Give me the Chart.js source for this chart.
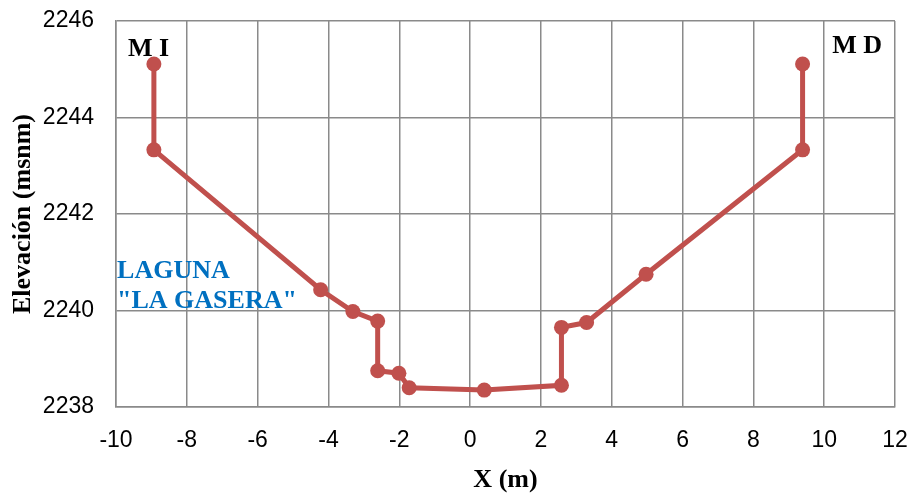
<!DOCTYPE html>
<html>
<head>
<meta charset="utf-8">
<script src="https://cdn.jsdelivr.net/npm/chart.js@4.4.1/dist/chart.umd.min.js"></script>
<style>
  html, body { margin: 0; padding: 0; background: #fff; }
  #wrap { width: 914px; height: 493px; }
</style>
</head>
<body>
<div id="wrap"><canvas id="perfil" width="914" height="493"></canvas></div>
<script>
// Perfil transversal - distancias (m) y elevaciones (msnm)
const distX = [-8.93, -8.93, -4.22, -3.31, -2.61, -2.61, -2.01, -1.72, 0.40, 2.58, 2.58, 3.29, 4.97, 9.39, 9.39];
const elev = [2245.11, 2243.33, 2240.43, 2239.98, 2239.78, 2238.75, 2238.70, 2238.40, 2238.35, 2238.45, 2239.65, 2239.75, 2240.75, 2243.33, 2245.11];

const xMin = -10, xMax = 12, xStep = 2;
const yMin = 2238, yMax = 2246, yStep = 2;

const xTitle = 'X (m)';
const yTitle = 'Elevación (msnm)';

// etiquetas dentro del gráfico (posición en unidades de los ejes)
const notes = [
  { text: 'M I', x: -9.66, y: 2245.27, color: '#000000' },
  { text: 'M D', x: 10.23, y: 2245.34, color: '#000000' },
  { text: 'LAGUNA', x: -9.97, y: 2240.67, color: '#0070C0' },
  { text: '"LA GASERA"', x: -9.97, y: 2240.05, color: '#0070C0' }
];

const tickFont = { family: '"Liberation Sans", Arial, sans-serif', size: 23 };
const serifBold = 'bold 26px "Liberation Serif", "Times New Roman", serif';
const gridColor = '#8a8a8a';

const textPlugin = {
  id: 'textPlugin',
  afterDraw(chart) {
    const ctx = chart.ctx;
    const xs = chart.scales.x, ys = chart.scales.y;
    const area = chart.chartArea;
    ctx.save();
    ctx.font = serifBold;
    ctx.textBaseline = 'alphabetic';
    ctx.textAlign = 'left';
    notes.forEach(n => {
      ctx.fillStyle = n.color;
      ctx.fillText(n.text, xs.getPixelForValue(n.x), ys.getPixelForValue(n.y));
    });

    ctx.fillStyle = '#000';
    ctx.textAlign = 'center';
    ctx.fillText(xTitle, (area.left + area.right) / 2, 487);

    ctx.translate(30, (area.top + area.bottom) / 2);
    ctx.rotate(-Math.PI / 2);
    ctx.fillText(yTitle, 0, 0);
    ctx.restore();
  }
};

new Chart(document.getElementById('perfil'), {
  type: 'scatter',
  data: {
    datasets: [{
      data: distX.map((x, i) => ({ x: x, y: elev[i] })),
      showLine: true,
      borderColor: '#C0504D',
      backgroundColor: '#C0504D',
      borderWidth: 5,
      pointRadius: 7.5,
      pointBorderWidth: 0,
      pointBackgroundColor: '#C0504D',
      tension: 0
    }]
  },
  options: {
    responsive: false,
    animation: false,
    layout: { padding: { top: 21, right: 19, left: 0, bottom: 0 } },
    plugins: {
      legend: { display: false },
      tooltip: { enabled: false }
    },
    scales: {
      x: {
        type: 'linear',
        min: xMin,
        max: xMax,
        ticks: { stepSize: xStep, color: '#000', font: tickFont, padding: 20, maxRotation: 0 },
        grid: { color: gridColor, lineWidth: 1.5, drawTicks: false },
        border: { color: gridColor, width: 1.5 },
        afterFit: s => { s.height = 86; s.paddingLeft = 0; s.paddingRight = 0; }
      },
      y: {
        type: 'linear',
        min: yMin,
        max: yMax,
        ticks: { stepSize: yStep, color: '#000', font: tickFont, padding: 22, callback: v => String(v) },
        grid: { color: gridColor, lineWidth: 1.5, drawTicks: false },
        border: { color: gridColor, width: 1.5 },
        afterFit: s => { s.width = 116; s.paddingTop = 0; s.paddingBottom = 0; }
      }
    }
  },
  plugins: [textPlugin]
});
</script>
</body>
</html>
